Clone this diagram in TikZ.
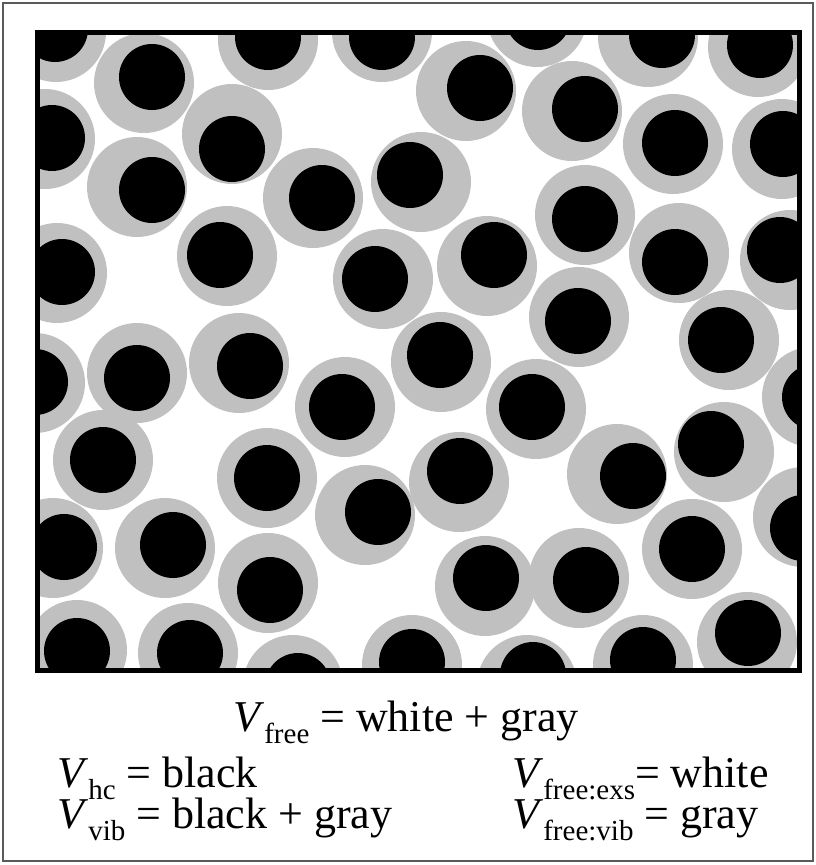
\documentclass[tikz,border=0pt]{standalone}
\usepackage{fontspec}
\setmainfont{Liberation Serif}
\definecolor{shellgray}{RGB}{192,192,192}
\definecolor{framegray}{RGB}{90,90,90}
\newcommand{\Vsub}[1]{\textit{V}\raisebox{-0.28em}{\fontsize{29}{30}\selectfont #1}}
\tikzset{
  shell/.style={fill=shellgray},
  core/.style={fill=black},
  legend/.style={inner sep=0pt, font=\fontsize{44}{50}\selectfont}
}

\begin{document}
\begin{tikzpicture}[x=1pt,y=-1pt]
\useasboundingbox (0,0) rectangle (815,865);
\draw[framegray, line width=1.5pt] (3,3) rectangle (813,861);

\begin{scope}
\clip (37,32) rectangle (799,670);
% gray x, gray y, black x, black y
\def\particles{56/32/55/29, 144/83/152/77, 268/40/268/37, 382/32/382/37,
  45/139/52/138, 232/134/232/149, 137/187/152/190, 313/198/322/198,
  421/182/410/175, 227/256/220/255, 383/279/375/279, 57/273/62/272,
  466/91/480/88, 537/17/538/17, 572/111/585/109, 648/37/662/35,
  758/47/760/45, 673/144/675/143, 782/149/783/144, 585/215/585/219,
  679/253/675/262, 790/260/780/250, 487/266/494/255, 579/317/578/321,
  729/340/721/340, 441/362/440/355, 536/409/532/407, 812/397/815/397,
  459/482/460/471, 617/474/633/476, 724/452/711/444, 803/517/803/528,
  485/586/486/578, 579/578/586/580, 692/549/692/549, 747/642/748/633,
  412/665/412/662, 527/685/533/675, 643/665/643/660, 35/383/35/382,
  137/373/137/378, 239/363/250/366, 345/407/342/407, 103/460/103/460,
  267/478/267/478, 365/515/378/512, 53/548/64/547, 165/548/173/545,
  268/583/270/590, 77/650/77/651, 188/653/190/653, 293/685/298/686}
\foreach \gx/\gy/\bx/\by in \particles
  \fill[shell] (\gx,\gy) circle (50);
\foreach \gx/\gy/\bx/\by in \particles
  \fill[core] (\bx,\by) circle (33);
\end{scope}
\draw[line width=5pt] (37,32) rectangle (799,670);

\node[legend, anchor=base west] (vfree) at (233,731) {\Vsub{free} = white + gray};
\node[legend, anchor=base west] (vhc) at (57,787) {\Vsub{hc} = black};
\node[legend, anchor=base west] (vvib) at (57,828) {\Vsub{vib} = black + gray};
\node[legend, anchor=base west] (vexs) at (512,787) {\Vsub{free:exs}= white};
\node[legend, anchor=base west] (vfvib) at (512,828) {\Vsub{free:vib} = gray};
\end{tikzpicture}
\end{document}
